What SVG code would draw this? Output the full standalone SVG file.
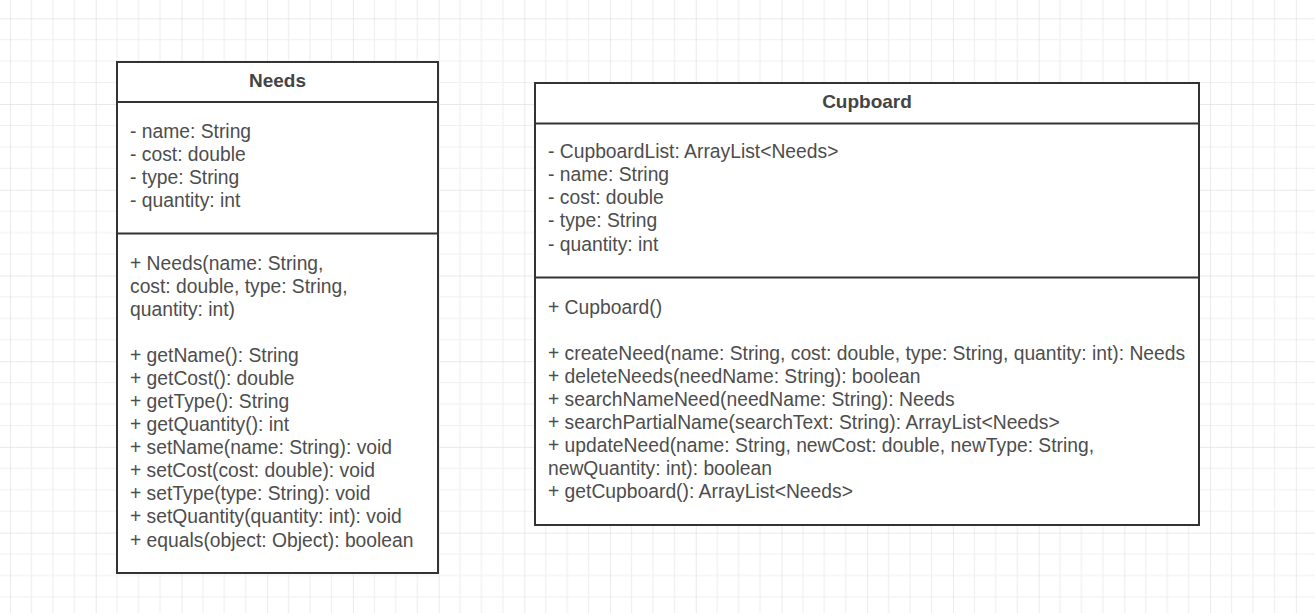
<svg xmlns="http://www.w3.org/2000/svg" width="1315" height="613" viewBox="0 0 1315 613">
<defs>
<pattern id="grid" patternUnits="userSpaceOnUse" x="10" y="18.3" width="85.72" height="85.72">
<rect x="0" y="0" width="85.72" height="85.72" fill="#ffffff"/>
<g stroke="#f0f0f0" stroke-width="1.2">
<line x1="21.43" y1="0" x2="21.43" y2="85.72"/>
<line x1="42.86" y1="0" x2="42.86" y2="85.72"/>
<line x1="64.29" y1="0" x2="64.29" y2="85.72"/>
<line x1="0" y1="21.43" x2="85.72" y2="21.43"/>
<line x1="0" y1="42.86" x2="85.72" y2="42.86"/>
<line x1="0" y1="64.29" x2="85.72" y2="64.29"/>
</g>
<g stroke="#e2e2e2" stroke-width="1.4">
<line x1="0" y1="0" x2="0" y2="85.72"/>
<line x1="0" y1="0" x2="85.72" y2="0"/>
</g>
</pattern>
<style>
.box{fill:#ffffff;stroke:#333333;stroke-width:2}
.div{stroke:#333333;stroke-width:2}
.t{font-family:"Liberation Sans",Arial,sans-serif;font-size:19.3px;fill:#4d4d4d}
.h{font-family:"Liberation Sans",Arial,sans-serif;font-size:19px;font-weight:bold;fill:#444444;text-anchor:middle}
</style>
</defs>
<rect x="0" y="0" width="1315" height="613" fill="url(#grid)"/>
<g id="connectors"></g>
<g id="needs">
<rect class="box" x="117" y="62" width="321" height="511"/>
<line class="div" x1="117" y1="102" x2="438" y2="102"/>
<line class="div" x1="117" y1="233.5" x2="438" y2="233.5"/>
<text class="h" x="277.5" y="86.7">Needs</text>
<text class="t" x="130" y="137.7">- name: String</text>
<text class="t" x="130" y="160.7">- cost: double</text>
<text class="t" x="130" y="183.7">- type: String</text>
<text class="t" x="130" y="206.7">- quantity: int</text>
<text class="t" x="130" y="270">+ Needs(name: String,</text>
<text class="t" x="130" y="293">cost: double, type: String,</text>
<text class="t" x="130" y="316">quantity: int)</text>
<text class="t" x="130" y="362">+ getName(): String</text>
<text class="t" x="130" y="385">+ getCost(): double</text>
<text class="t" x="130" y="408">+ getType(): String</text>
<text class="t" x="130" y="431">+ getQuantity(): int</text>
<text class="t" x="130" y="454">+ setName(name: String): void</text>
<text class="t" x="130" y="477">+ setCost(cost: double): void</text>
<text class="t" x="130" y="500">+ setType(type: String): void</text>
<text class="t" x="130" y="523">+ setQuantity(quantity: int): void</text>
<text class="t" x="130" y="546.5">+ equals(object: Object): boolean</text>
</g>
<g id="cupboard">
<rect class="box" x="535" y="83" width="664" height="442"/>
<line class="div" x1="535" y1="123.5" x2="1199" y2="123.5"/>
<line class="div" x1="535" y1="277.5" x2="1199" y2="277.5"/>
<text class="h" x="867" y="107.7">Cupboard</text>
<text class="t" x="548" y="158.3">- CupboardList: ArrayList&lt;Needs&gt;</text>
<text class="t" x="548" y="181.3">- name: String</text>
<text class="t" x="548" y="204.3">- cost: double</text>
<text class="t" x="548" y="227.3">- type: String</text>
<text class="t" x="548" y="250.5">- quantity: int</text>
<text class="t" x="548" y="314">+ Cupboard()</text>
<text class="t" x="548" y="360">+ createNeed(name: String, cost: double, type: String, quantity: int): Needs</text>
<text class="t" x="548" y="383">+ deleteNeeds(needName: String): boolean</text>
<text class="t" x="548" y="406">+ searchNameNeed(needName: String): Needs</text>
<text class="t" x="548" y="429">+ searchPartialName(searchText: String): ArrayList&lt;Needs&gt;</text>
<text class="t" x="548" y="452">+ updateNeed(name: String, newCost: double, newType: String,</text>
<text class="t" x="548" y="475">newQuantity: int): boolean</text>
<text class="t" x="548" y="498">+ getCupboard(): ArrayList&lt;Needs&gt;</text>
</g>
</svg>
